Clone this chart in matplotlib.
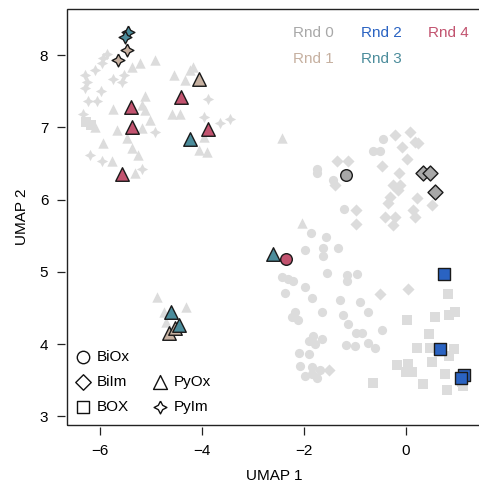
import numpy as np
import matplotlib
matplotlib.use("Agg")
import matplotlib.pyplot as plt
from matplotlib.patches import Rectangle

plt.rcParams['font.family'] = ['Liberation Sans', 'DejaVu Sans']

# background (all candidates), light grey, by ligand shape
bg_circle_x = [-1.75, -1.75, -1.43, -1.22, -0.46, -0.64, -0.51,
               -1.87, -1.57, -1.98, -1.63, -1.33, -1.62,
               -2.44, -2.31, -2.21, -2.37, -1.98, -1.55, -1.15, -0.97, -1.16,
               -1.85, -1.29, -0.90, -1.65, -2.18, -2.24, -2.11, -1.24, -0.74,
               -1.14, -0.98, -0.87, -0.48, -1.83, -1.90, -1.65, -1.78, -1.18,
               -1.00, -0.74, -0.61, -2.09, -1.90, -2.08, -1.85, -1.69, -1.98,
               -1.85, -1.75]
bg_circle_y = [6.43, 6.37, 6.27, 5.87, 6.84, 6.68, 6.68,
               5.54, 5.48, 5.31, 5.33, 5.33, 5.22,
               4.93, 4.90, 4.87, 4.71, 4.79, 4.98, 4.96, 4.97, 4.88,
               4.64, 4.61, 4.58, 4.45, 4.44, 4.37, 4.33, 4.41, 4.45,
               4.28, 4.15, 4.16, 4.19, 4.11, 4.05, 4.07, 4.00, 3.99,
               3.97, 4.01, 3.95, 3.88, 3.87, 3.70, 3.69, 3.64, 3.56,
               3.58, 3.53]

bg_diamond_x = [-1.36, -1.13, -1.39, -0.98, -0.98,
                -0.22, 0.08, -0.08, 0.18, 0.24, 0.01, -0.48, -0.13, -0.25,
                -0.15, -0.12, -0.31, -0.35, 0.21, 0.50, 0.14, 0.18, -0.41,
                -0.22, -0.25, -1.52, -0.51, 0.03]
bg_diamond_y = [6.53, 6.53, 6.20, 5.86, 5.67,
                6.89, 6.94, 6.73, 6.80, 6.78, 6.57, 6.46, 6.37, 6.20,
                6.13, 6.20, 6.04, 5.95, 6.03, 5.93, 5.86, 5.76, 5.76,
                5.76, 5.65, 3.64, 4.70, 4.76]

bg_square_x = [0.83, 0.57, 0.01, 0.85, 0.96, 0.46, 0.21, 0.47, 0.94, 0.85,
               0.50, -0.18, 0.03, 0.00, 0.11, 0.76, -0.64, 0.33, 0.81, 1.12,
               1.10, -6.27, -6.18]
bg_square_y = [4.70, 4.38, 4.34, 4.41, 4.45, 4.14, 3.95, 3.95, 3.93, 3.84,
               3.75, 3.71, 3.73, 3.61, 3.62, 3.58, 3.46, 3.45, 3.37, 3.42,
               3.48, 7.08, 7.03]

bg_tri_x = [-5.22, -4.92, -5.38, -5.12, -5.18, -5.75, -5.12, -6.10, -5.67,
            -5.02, -5.18, -5.94, -5.48, -5.38, -5.25, -5.77, -5.31,
            -4.55, -4.33, -4.24, -4.17, -4.59, -4.43, -4.07, -3.91, -3.97,
            -2.44, -2.05, -4.89, -4.31, -4.75, -4.71]
bg_tri_y = [7.89, 7.94, 7.84, 7.43, 7.31, 7.25, 7.24, 7.01, 6.97,
            7.10, 6.99, 6.79, 6.85, 6.71, 6.62, 6.53, 6.37,
            7.72, 7.66, 7.79, 7.84, 7.19, 7.19, 6.69, 6.66, 6.87,
            6.85, 5.68, 4.65, 4.52, 4.45, 4.31]

bg_star_x = [-5.87, -5.94, -5.97, -6.10, -6.29, -6.26, -6.29, -5.98, -5.74,
             -5.54, -5.57, -6.23, -6.06, -6.33, -6.20, -5.97, -5.18, -4.92,
             -3.88, -3.97, -3.65, -3.45]
bg_star_y = [8.02, 7.96, 7.89, 7.79, 7.72, 7.63, 7.54, 7.51, 7.67,
             7.72, 7.63, 7.36, 7.36, 7.19, 6.62, 6.54, 6.43, 6.94,
             7.39, 7.15, 7.06, 7.12]

# selected candidates per round
hl_x = [-1.18, 0.34, 0.47, 0.57,
        -5.48, -5.64, -4.06, -4.65, -4.53,
        0.75, 0.67, 1.14, 1.07,
        -5.46, -5.51, -4.24, -2.60, -4.61, -4.46,
        -2.35, -5.40, -5.38, -5.57, -4.42, -3.88]
hl_y = [6.34, 6.37, 6.37, 6.10,
        8.07, 7.93, 7.67, 4.16, 4.23,
        4.97, 3.93, 3.57, 3.53,
        8.32, 8.25, 6.84, 5.25, 4.44, 4.26,
        5.18, 7.28, 7.00, 6.36, 7.42, 6.98]
hl_round = [0, 0, 0, 0,
            1, 1, 1, 1, 1,
            2, 2, 2, 2,
            3, 3, 3, 3, 3, 3,
            4, 4, 4, 4, 4, 4]
hl_shape = ['BiOx', 'BiIm', 'BiIm', 'BiIm',
            'PyIm', 'PyIm', 'PyOx', 'PyOx', 'PyOx',
            'BOX', 'BOX', 'BOX', 'BOX',
            'PyIm', 'PyIm', 'PyOx', 'PyOx', 'PyOx', 'PyOx',
            'BiOx', 'PyOx', 'PyOx', 'PyOx', 'PyOx', 'PyOx']

round_labels = ['Rnd 0', 'Rnd 1', 'Rnd 2', 'Rnd 3', 'Rnd 4']
round_colors = ['#a8a8a8', '#c6b0a0', '#2a63c2', '#4b8c9b', '#c2536f']

shape_names = ['BiOx', 'BiIm', 'BOX', 'PyOx', 'PyIm']

# 4-point star marker
r = 0.34
star = [(0, 1), (r, r), (1, 0), (r, -r), (0, -1), (-r, -r), (-1, 0), (-r, r), (0, 1)]
markers = {'BiOx': 'o', 'BiIm': 'D', 'BOX': 's', 'PyOx': '^', 'PyIm': star}
bg_size = {'BiOx': 44, 'BiIm': 38, 'BOX': 44, 'PyOx': 56, 'PyIm': 66}
hl_size = {'BiOx': 70, 'BiIm': 58, 'BOX': 64, 'PyOx': 95, 'PyIm': 85}

bg_data = {'BiOx': (bg_circle_x, bg_circle_y), 'BiIm': (bg_diamond_x, bg_diamond_y),
           'BOX': (bg_square_x, bg_square_y), 'PyOx': (bg_tri_x, bg_tri_y),
           'PyIm': (bg_star_x, bg_star_y)}

fig = plt.figure(figsize=(4.79, 4.84), dpi=100)
ax = fig.add_axes([67/479, 1 - 425/484, 415/479, 416/484])

for name in shape_names:
    xs, ys = bg_data[name]
    ax.scatter(xs, ys, s=bg_size[name], marker=markers[name], c='#dcdcdc',
               linewidths=0, zorder=1)

hx = np.array(hl_x)
hy = np.array(hl_y)
hr = np.array(hl_round)
hs = np.array(hl_shape)
for k in range(len(round_labels)):
    for name in shape_names:
        m = (hr == k) & (hs == name)
        if m.sum() == 0:
            continue
        ax.scatter(hx[m], hy[m], s=hl_size[name], marker=markers[name],
                   c=round_colors[k], edgecolors='#1a1a1a', linewidths=1.0, zorder=2 + k)

ax.set_xlim(-6.65, 1.49)
ax.set_ylim(2.88, 8.64)
ax.set_xticks([-6, -4, -2, 0])
ax.set_yticks([3, 4, 5, 6, 7, 8])
ax.set_xticklabels(['\u22126', '\u22124', '\u22122', '0'])

for s in ax.spines.values():
    s.set_visible(False)
ax.spines['left'].set_position(('outward', 1.5))
ax.spines['bottom'].set_position(('outward', 1.5))
ax.add_patch(Rectangle((0, 0), 1, 1, transform=ax.transAxes, fill=False,
                       lw=1.0, ec='#222222', clip_on=False, zorder=10))
ax.tick_params(direction='out', length=5.5, width=0.9, color='#222222',
               labelsize=11, pad=6.5)
ax.set_xlabel('UMAP 1', fontsize=11, labelpad=8)
ax.set_ylabel('UMAP 2', fontsize=11, labelpad=8)

# round legend (coloured text)
for i, lab in enumerate(round_labels):
    ax.text(0.545 + (i // 2) * 0.163, 0.942 - (i % 2) * 0.063, lab,
            color=round_colors[i], fontsize=11, ha='left', va='center',
            transform=ax.transAxes)

# shape legend
leg_pos = {'BiOx': (0, 0), 'BiIm': (0, 1), 'BOX': (0, 2), 'PyOx': (1, 1), 'PyIm': (1, 2)}
leg_ms = {'BiOx': 80, 'BiIm': 62, 'BOX': 72, 'PyOx': 100, 'PyIm': 85}
for name in shape_names:
    c, rrow = leg_pos[name]
    lx = 0.038 + c * 0.186
    ly = 0.164 - rrow * 0.06
    ax.scatter([lx], [ly], s=leg_ms[name], marker=markers[name], facecolors='white',
               edgecolors='#111111', linewidths=1.0, transform=ax.transAxes,
               clip_on=False, zorder=11)
    ax.text(lx + 0.034, ly, name, fontsize=11, ha='left', va='center',
            transform=ax.transAxes)

fig.savefig('out.png', dpi=100)
